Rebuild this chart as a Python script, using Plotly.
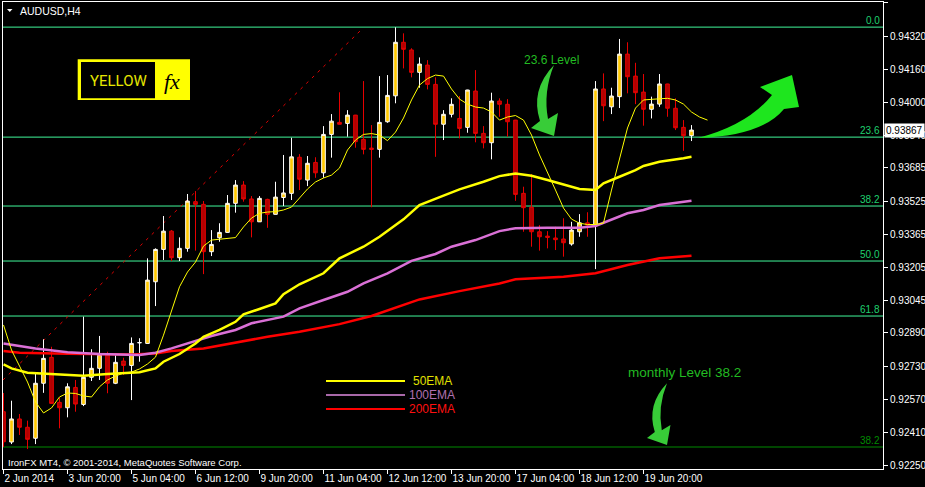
import plotly.graph_objects as go

# ---------------- data ----------------
bars = list(range(87))

open_ = [0.92510, 0.92364, 0.92475, 0.92435, 0.92382, 0.92647, 0.92772, 0.92555, 0.92529, 0.92627,
         0.92545, 0.92676, 0.92719, 0.92786, 0.92647, 0.92754, 0.92733, 0.92842, 0.92839, 0.93136,
         0.93292, 0.93380, 0.93252, 0.93297, 0.93522, 0.93509, 0.93281, 0.93348, 0.93374, 0.93514,
         0.93602, 0.93535, 0.93425, 0.93533, 0.93461, 0.93542, 0.93562, 0.93736, 0.93626, 0.93711,
         0.93661, 0.93846, 0.93904, 0.93899, 0.93939, 0.93822, 0.93780, 0.93774, 0.93907, 0.94032,
         0.94290, 0.94253, 0.94145, 0.94180, 0.94087, 0.93895, 0.93943, 0.93923, 0.93880, 0.94055,
         0.93851, 0.93806, 0.94007, 0.93991, 0.93915, 0.93562, 0.93495, 0.93377, 0.93356, 0.93347,
         0.93342, 0.93318, 0.93377, 0.93420, 0.93409, 0.94065, 0.93979, 0.94028, 0.94233, 0.94127,
         0.94050, 0.93967, 0.93992, 0.94089, 0.93972, 0.93880, 0.93840]
high = [0.92600, 0.92563, 0.92499, 0.92467, 0.92695, 0.92859, 0.92823, 0.92576, 0.92647, 0.92663,
        0.92968, 0.92811, 0.92875, 0.92799, 0.92791, 0.92770, 0.92868, 0.92864, 0.93249, 0.93297,
        0.93453, 0.93385, 0.93350, 0.93559, 0.93573, 0.93525, 0.93385, 0.93418, 0.93554, 0.93626,
        0.93621, 0.93549, 0.93549, 0.93536, 0.93618, 0.93747, 0.93830, 0.93751, 0.93742, 0.93736,
        0.93886, 0.93944, 0.94049, 0.93963, 0.93940, 0.94103, 0.93891, 0.94127, 0.94132, 0.94362,
        0.94333, 0.94261, 0.94217, 0.94204, 0.94121, 0.93963, 0.94020, 0.94031, 0.94061, 0.94156,
        0.93886, 0.94047, 0.94020, 0.94016, 0.93916, 0.93594, 0.93655, 0.93409, 0.93380, 0.93401,
        0.93442, 0.93425, 0.93462, 0.93471, 0.94103, 0.94140, 0.94071, 0.94306, 0.94290, 0.94191,
        0.94137, 0.94028, 0.94137, 0.94090, 0.94020, 0.93915, 0.93891]
low = [0.92340, 0.92354, 0.92398, 0.92330, 0.92354, 0.92601, 0.92549, 0.92430, 0.92483, 0.92510,
       0.92537, 0.92658, 0.92663, 0.92599, 0.92643, 0.92687, 0.92566, 0.92751, 0.92838, 0.93019,
       0.93241, 0.93236, 0.93236, 0.93281, 0.93286, 0.93173, 0.93260, 0.93329, 0.93373, 0.93469,
       0.93522, 0.93350, 0.93424, 0.93396, 0.93460, 0.93501, 0.93530, 0.93578, 0.93597, 0.93637,
       0.93637, 0.93734, 0.93894, 0.93835, 0.93782, 0.93750, 0.93495, 0.93734, 0.93902, 0.93996,
       0.94164, 0.94121, 0.94071, 0.94063, 0.93738, 0.93819, 0.93928, 0.93827, 0.93854, 0.93808,
       0.93779, 0.93726, 0.93931, 0.93835, 0.93526, 0.93377, 0.93305, 0.93286, 0.93297, 0.93289,
       0.93257, 0.93310, 0.93353, 0.93353, 0.93197, 0.93910, 0.93944, 0.93973, 0.94044, 0.93992,
       0.93888, 0.93923, 0.93979, 0.93931, 0.93867, 0.93767, 0.93814]
close = [0.92365, 0.92475, 0.92435, 0.92377, 0.92647, 0.92767, 0.92550, 0.92529, 0.92630, 0.92547,
         0.92676, 0.92719, 0.92786, 0.92647, 0.92748, 0.92733, 0.92839, 0.92843, 0.93144, 0.93292,
         0.93380, 0.93252, 0.93297, 0.93525, 0.93509, 0.93281, 0.93316, 0.93374, 0.93514, 0.93602,
         0.93535, 0.93425, 0.93538, 0.93461, 0.93544, 0.93564, 0.93738, 0.93630, 0.93707, 0.93661,
         0.93846, 0.93910, 0.93895, 0.93939, 0.93811, 0.93774, 0.93774, 0.93904, 0.94034, 0.94290,
         0.94256, 0.94145, 0.94185, 0.94087, 0.93895, 0.93943, 0.93991, 0.93875, 0.94060, 0.93851,
         0.93806, 0.94007, 0.93991, 0.93907, 0.93557, 0.93493, 0.93377, 0.93353, 0.93350, 0.93339,
         0.93324, 0.93385, 0.93420, 0.93409, 0.94065, 0.93984, 0.94031, 0.94233, 0.94124, 0.94047,
         0.93967, 0.93992, 0.94089, 0.93972, 0.93878, 0.93840, 0.93867]

fast_ma_bars = list(range(89))
fast_ma = [0.92928, 0.92807, 0.92730, 0.92653, 0.92557, 0.92504, 0.92528, 0.92581, 0.92600, 0.92598,
           0.92586, 0.92581, 0.92630, 0.92663, 0.92682, 0.92696, 0.92701, 0.92716, 0.92740, 0.92773,
           0.92879, 0.93000, 0.93112, 0.93183, 0.93231, 0.93308, 0.93337, 0.93341, 0.93344, 0.93349,
           0.93400, 0.93443, 0.93466, 0.93472, 0.93474, 0.93482, 0.93496, 0.93538, 0.93583, 0.93617,
           0.93636, 0.93650, 0.93684, 0.93771, 0.93819, 0.93846, 0.93850, 0.93843, 0.93816, 0.93857,
           0.93925, 0.94012, 0.94084, 0.94115, 0.94132, 0.94127, 0.94065, 0.94016, 0.93992, 0.93978,
           0.93973, 0.93954, 0.93915, 0.93930, 0.93937, 0.93915, 0.93843, 0.93747, 0.93665, 0.93578,
           0.93491, 0.93438, 0.93418, 0.93412, 0.93412, 0.93419, 0.93578, 0.93723, 0.93877, 0.93973,
           0.94012, 0.94015, 0.94019, 0.94020, 0.94012, 0.93992, 0.93954, 0.93930, 0.93915]

ema50_bars = [0, 1, 3, 10, 13, 17, 19, 20, 22, 24, 25, 27, 29, 30, 32, 34, 35, 37, 40, 42, 45,
              47, 50, 52, 55, 57, 60, 62, 64, 66, 68, 70, 72, 74, 75, 77, 79, 80, 82, 85, 86]
ema50 = [0.92738, 0.92719, 0.92698, 0.92683, 0.92692, 0.92700, 0.92719, 0.92751, 0.92788, 0.92839,
         0.92871, 0.92904, 0.92943, 0.92979, 0.93005, 0.93032, 0.93076, 0.93124, 0.93177, 0.93249,
         0.93305, 0.93353, 0.93437, 0.93506, 0.93551, 0.93581, 0.93618, 0.93645, 0.93658, 0.93647,
         0.93626, 0.93605, 0.93583, 0.93578, 0.93610, 0.93642, 0.93674, 0.93694, 0.93714, 0.93731,
         0.93738]

ema100_bars = [0, 4, 8, 12, 17, 19, 21, 24, 26, 29, 31, 35, 37, 40, 43, 45, 48, 51, 54, 56, 59,
               62, 64, 68, 72, 74, 76, 78, 80, 82, 86]
ema100 = [0.92839, 0.92815, 0.92796, 0.92788, 0.92783, 0.92794, 0.92815, 0.92852, 0.92875, 0.92904,
          0.92936, 0.92968, 0.93008, 0.93048, 0.93088, 0.93128, 0.93177, 0.93237, 0.93270, 0.93305,
          0.93337, 0.93380, 0.93394, 0.93396, 0.93396, 0.93405, 0.93437, 0.93466, 0.93482, 0.93506,
          0.93526]

ema200_bars = [0, 2, 8, 16, 19, 21, 25, 29, 33, 37, 42, 46, 52, 57, 62, 64, 70, 74, 78, 82, 86]
ema200 = [0.92802, 0.92794, 0.92789, 0.92786, 0.92791, 0.92802, 0.92815, 0.92844, 0.92871, 0.92895,
          0.92932, 0.92971, 0.93051, 0.93091, 0.93128, 0.93148, 0.93160, 0.93177, 0.93217, 0.93249,
          0.93261]

fib_levels = [0.94363, 0.93833, 0.93501, 0.93236, 0.92971]
fib_labels = ["0.0", "23.6", "38.2", "50.0", "61.8"]
fib_trend_x = [-0.06, 44.56]
fib_trend_y = [0.92663, 0.94344]
monthly_level = 0.92340
monthly_label = "38.2"
last_price = 0.93867

tick_bars = [0, 8, 16, 24, 32, 40, 48, 56, 64, 72, 80]
tick_text = ["2 Jun 2014", "3 Jun 20:00", "5 Jun 04:00", "6 Jun 12:00", "9 Jun 20:00",
             "11 Jun 04:00", "12 Jun 12:00", "13 Jun 20:00", "17 Jun 04:00", "18 Jun 12:00",
             "19 Jun 20:00"]
price_ticks = [0.94480, 0.94320, 0.94160, 0.94000, 0.93840, 0.93685, 0.93525, 0.93365,
               0.93205, 0.93045, 0.92890, 0.92730, 0.92570, 0.92410, 0.92250]
price_tick_text = ["%.5f" % v for v in price_ticks]

# ---------------- layout helpers (pixel -> paper) ----------------
L, R, T, B = 3, 883, 2, 469
def px(x):
    return (x - L) / (R - L)
def py(y):
    return (B - y) / (B - T)
def path(cmds):
    out = []
    for c in cmds:
        if isinstance(c, str):
            out.append(c)
        else:
            out.append("%.5f,%.5f" % (px(c[0]), py(c[1])))
    return " ".join(out)

FONT = "Liberation Sans, Arial, sans-serif"
FIB_COLOR = "#40F79A"
FIB_TEXT = "#1FD06E"

fig = go.Figure()

fig.add_trace(go.Candlestick(
    x=bars, open=open_, high=high, low=low, close=close,
    increasing=dict(line=dict(color="#FFFFFF", width=1), fillcolor="#FFC800"),
    decreasing=dict(line=dict(color="#E60000", width=1), fillcolor="#B00000"),
    whiskerwidth=0, hoverinfo="skip", showlegend=False))

fig.add_trace(go.Scatter(x=ema200_bars, y=ema200, mode="lines",
                         line=dict(color="#FF0000", width=2.5), hoverinfo="skip", showlegend=False))
fig.add_trace(go.Scatter(x=ema100_bars, y=ema100, mode="lines",
                         line=dict(color="#DA70D6", width=2.5), hoverinfo="skip", showlegend=False))
fig.add_trace(go.Scatter(x=ema50_bars, y=ema50, mode="lines",
                         line=dict(color="#FFFF00", width=2.5), hoverinfo="skip", showlegend=False))
fig.add_trace(go.Scatter(x=fast_ma_bars, y=fast_ma, mode="lines",
                         line=dict(color="#FFFF00", width=1), hoverinfo="skip", showlegend=False))

shapes = []
annotations = []

def note(x, y, text, size, color, family=FONT, xanchor="center", yanchor="middle", **kw):
    d = dict(xref="paper", yref="paper", x=x, y=y, text=text, showarrow=False,
             xanchor=xanchor, yanchor=yanchor, font=dict(family=family, size=size, color=color))
    d.update(kw)
    annotations.append(d)

# fibonacci levels
for lv, lab in zip(fib_levels, fib_labels):
    shapes.append(dict(type="line", xref="paper", x0=0, x1=1, yref="y", y0=lv, y1=lv,
                       line=dict(color=FIB_COLOR, width=1), layer="below"))
    annotations.append(dict(xref="paper", x=1, xanchor="right", xshift=-1, yref="y", y=lv,
                            yanchor="bottom", yshift=-1, text=lab, showarrow=False,
                            font=dict(family=FONT, size=10, color=FIB_TEXT)))
shapes.append(dict(type="line", xref="x", yref="y", x0=fib_trend_x[0], y0=fib_trend_y[0],
                   x1=fib_trend_x[1], y1=fib_trend_y[1],
                   line=dict(color="#E00000", width=1, dash="3px,5px"), layer="below"))
# monthly level
shapes.append(dict(type="line", xref="paper", x0=0, x1=1, yref="y", y0=monthly_level, y1=monthly_level,
                   line=dict(color="#008A00", width=1), layer="below"))
annotations.append(dict(xref="paper", x=1, xanchor="right", xshift=-1, yref="y", y=monthly_level,
                        yanchor="bottom", yshift=-1, text=monthly_label, showarrow=False,
                        font=dict(family=FONT, size=10, color="#008A00")))

# logo
shapes.append(dict(type="rect", xref="paper", yref="paper", x0=px(77.7), x1=px(190), y0=py(100), y1=py(59.3),
                   fillcolor="#FFFF00", line=dict(width=0)))
shapes.append(dict(type="rect", xref="paper", yref="paper", x0=px(81), x1=px(155), y0=py(98.3), y1=py(62),
                   fillcolor="#000000", line=dict(width=0)))
note(px(118), py(81.5), "YELLOW", 15, "#E6E600", family="Roboto, sans-serif")
note(px(171.5), py(82), "<i>fx</i>", 22, "#000000", family="Liberation Serif, serif")

# symbol caption and copyright
shapes.append(dict(type="path", xref="paper", yref="paper",
                   path=path(["M", (7, 9), "L", (12.5, 9), "L", (9.75, 12), "Z"]),
                   fillcolor="#FFFFFF", line=dict(width=0)))
note(px(18), py(10.5), "AUDUSD,H4", 10.5, "#FFFFFF", xanchor="left")
note(px(6), py(462), "IronFX MT4, © 2001-2014, MetaQuotes Software Corp.", 9.5, "#FFFFFF", xanchor="left")

# arrows and comments
arrow1 = ["M", (554, 65), "Q", (530, 90), (540, 121), "L", (531, 128), "L", (554, 136), "L", (558, 113),
          "L", (548, 119), "Q", (543, 92), (554, 65), "Z"]
shapes.append(dict(type="path", xref="paper", yref="paper", path=path(arrow1),
                   fillcolor="#38CC38", line=dict(width=0)))
def move(cmds, dx, dy, s, cx, cy):
    out = []
    for c in cmds:
        if isinstance(c, str):
            out.append(c)
        else:
            out.append((cx + dx + s * (c[0] - cx), cy + dy + s * (c[1] - cy)))
    return out
arrow2 = move(arrow1, 113, 309, 0.87, 554, 136)
shapes.append(dict(type="path", xref="paper", yref="paper", path=path(arrow2),
                   fillcolor="#38CC38", line=dict(width=0)))
arrow3 = ["M", (698, 138), "Q", (762, 136), (784, 109), "L", (799, 107), "L", (792, 75), "L", (760, 87),
          "L", (772, 95), "Q", (748, 125), (698, 138), "Z"]
shapes.append(dict(type="path", xref="paper", yref="paper", path=path(arrow3),
                   fillcolor="#1EE61E", line=dict(width=0)))
note(px(551.5), py(60), "23.6 Level", 12, "#22BB22")
note(px(684), py(372), "monthly Level 38.2", 13.5, "#22BB22")

# custom EMA legend
legend_items = [("50EMA", "#FFFF00", "#E0E000", 381), ("100EMA", "#A868A8", "#B070B0", 395),
                ("200EMA", "#FF0000", "#FF1010", 409)]
for name, lc, tc, yy in legend_items:
    shapes.append(dict(type="line", xref="paper", yref="paper", x0=px(326), x1=px(405), y0=py(yy), y1=py(yy),
                       line=dict(color=lc, width=2)))
    note(px(432), py(yy), name, 12, tc)

# last price box on axis
annotations.append(dict(xref="paper", x=1, xanchor="left", xshift=1, yref="y", y=last_price,
                        yanchor="middle", text="0.93867", showarrow=False, bgcolor="#FFFFFF", borderpad=1,
                        font=dict(family=FONT, size=10, color="#000000")))

fig.update_layout(
    width=925, height=487,
    margin=dict(l=L, r=925 - R, t=T, b=487 - B, autoexpand=False),
    paper_bgcolor="#000000", plot_bgcolor="#000000",
    shapes=shapes, annotations=annotations,
    showlegend=False,
    xaxis=dict(range=[-0.0625, 109.9375], tickvals=tick_bars, ticktext=tick_text, tickangle=0,
               automargin=False,
               showgrid=False, zeroline=False, showline=True, mirror=True, linecolor="#FFFFFF", linewidth=1,
               ticks="outside", ticklen=4, tickcolor="#FFFFFF", ticklabelposition="outside right",
               tickfont=dict(family=FONT, size=10, color="#FFFFFF"), rangeslider=dict(visible=False),
               fixedrange=True),
    yaxis=dict(range=[0.92234, 0.94484], side="right", tickvals=price_ticks, ticktext=price_tick_text,
               automargin=False,
               showgrid=False, zeroline=False, showline=True, mirror=True, linecolor="#FFFFFF", linewidth=1,
               ticks="outside", ticklen=4, tickcolor="#FFFFFF",
               tickfont=dict(family=FONT, size=10, color="#FFFFFF"), fixedrange=True),
    boxgap=0.35,
)

fig.write_html("out.html", config={"displayModeBar": False},
               post_script="document.body.style.margin='0';document.body.style.background='#000';")
